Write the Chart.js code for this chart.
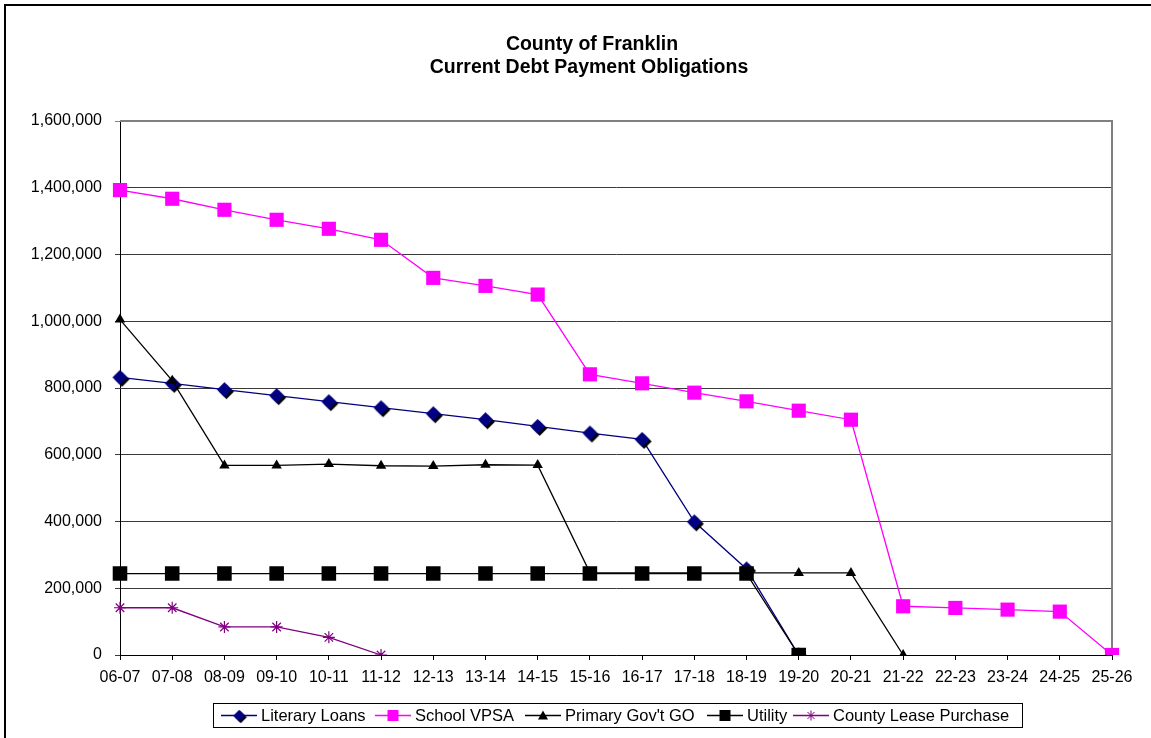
<!DOCTYPE html>
<html><head><meta charset="utf-8">
<script src="https://cdn.jsdelivr.net/npm/chart.js@4"></script>
<style>html,body{margin:0;padding:0;background:#fff;overflow:hidden}</style>
</head><body>
<canvas id="c" width="1151" height="738"></canvas>
<script>
const categories = ['06-07','07-08','08-09','09-10','10-11','11-12','12-13','13-14','14-15','15-16','16-17','17-18','18-19','19-20','20-21','21-22','22-23','23-24','24-25','25-26'];
const literaryLoans = [832000, 814000, 795000, 777000, 759000, 741000, 723000, 705000, 685000, 665000, 646000, 399000, 258000, 0, null, null, null, null, null, null];
const schoolVPSA = [1393000, 1367000, 1334000, 1304000, 1277000, 1244000, 1130000, 1106000, 1080000, 841000, 814000, 786000, 760000, 732000, 705000, 146000, 141000, 136000, 130000, 0];
const primaryGovtGO = [1005000, 822000, 568000, 568000, 572000, 567000, 566000, 570000, 569000, 247000, 246000, 246000, 246000, 246000, 246000, 0, null, null, null, null];
const utility = [244000, 244000, 244000, 244000, 244000, 244000, 244000, 244000, 244000, 244000, 244000, 244000, 244000, 0, null, null, null, null, null, null];
const countyLeasePurchase = [141500, 141500, 84000, 84000, 53000, 0, null, null, null, null, null, null, null, null, null, null, null, null, null, null];
const seriesNames = ['Literary Loans', 'School VPSA', "Primary Gov't GO", 'Utility', 'County Lease Purchase'];
const titleLines = ['County of Franklin', 'Current Debt Payment Obligations'];
const yMin = 0, yMax = 1600000, yStep = 200000;

const FONT = "'Liberation Sans', Arial, Helvetica, sans-serif";
const legendStarts = [221, 375, 525, 707, 793];

// diamond marker with shadow
function makeDiamond(r, off) {
  const s = 2 * r + off + 4;
  const cv = document.createElement('canvas');
  cv.width = s; cv.height = s;
  const g = cv.getContext('2d');
  const c = s / 2;
  function dia(cx, cy, col) {
    g.beginPath();
    g.moveTo(cx, cy - r); g.lineTo(cx + r, cy); g.lineTo(cx, cy + r); g.lineTo(cx - r, cy); g.closePath();
    g.fillStyle = col; g.fill();
  }
  dia(c + off, c + off, '#000000');
  dia(c, c, '#000080');
  return cv;
}
const diamondImg = makeDiamond(7.5, 2);
const diamondSmall = makeDiamond(6, 1.5);

const frameTitlePlugin = {
  id: 'frameTitle',
  beforeDraw(chart) {
    const ctx = chart.ctx;
    ctx.save();
    ctx.fillStyle = '#fff';
    ctx.fillRect(0, 0, chart.width, chart.height);
    ctx.strokeStyle = '#000';
    ctx.lineWidth = 2;
    ctx.strokeRect(5, 5, 1300, 1000);
    ctx.fillStyle = '#000';
    ctx.font = 'bold 19.5px ' + FONT;
    ctx.textAlign = 'center';
    ctx.textBaseline = 'alphabetic';
    ctx.fillText(titleLines[0], 592, 50);
    ctx.fillText(titleLines[1], 589, 73);
    ctx.restore();
  },
  beforeDatasetsDraw(chart) {
    const ctx = chart.ctx, a = chart.chartArea;
    ctx.save();
    ctx.strokeStyle = '#808080';
    ctx.lineWidth = 2;
    ctx.beginPath();
    ctx.moveTo(a.left, a.top);
    ctx.lineTo(a.right, a.top);
    ctx.lineTo(a.right, a.bottom);
    ctx.stroke();
    ctx.restore();
  },
  afterDraw(chart) {
    const ctx = chart.ctx;
    ctx.save();
    // legend box
    ctx.strokeStyle = '#000';
    ctx.lineWidth = 1;
    ctx.strokeRect(213.5, 703.5, 809, 24);
    ctx.font = '16.5px ' + FONT;
    ctx.textBaseline = 'middle';
    ctx.textAlign = 'left';
    const cy = 715.5;
    chart.data.datasets.forEach((ds, i) => {
      const x = legendStarts[i];
      const lineLen = 36;
      ctx.strokeStyle = ds.borderColor;
      ctx.lineWidth = 1.3;
      ctx.beginPath();
      ctx.moveTo(x, cy); ctx.lineTo(x + lineLen, cy);
      ctx.stroke();
      const mx = x + lineLen / 2;
      const st = ds.pointStyle;
      if (st instanceof HTMLCanvasElement) {
        ctx.drawImage(diamondSmall, mx - diamondSmall.width / 2, cy - diamondSmall.height / 2);
      } else if (st === 'rect') {
        ctx.fillStyle = ds.pointBackgroundColor;
        ctx.fillRect(mx - 5.5, cy - 5.5, 11, 11);
      } else if (st === 'triangle') {
        ctx.fillStyle = ds.pointBackgroundColor;
        ctx.beginPath();
        ctx.moveTo(mx, cy - 5); ctx.lineTo(mx + 5, cy + 4); ctx.lineTo(mx - 5, cy + 4); ctx.closePath();
        ctx.fill();
      } else if (st === 'star') {
        ctx.strokeStyle = ds.pointBorderColor;
        ctx.lineWidth = 1;
        const r = 5;
        ctx.beginPath();
        for (let k = 0; k < 4; k++) {
          const ang = k * Math.PI / 4;
          ctx.moveTo(mx - Math.cos(ang) * r, cy - Math.sin(ang) * r);
          ctx.lineTo(mx + Math.cos(ang) * r, cy + Math.sin(ang) * r);
        }
        ctx.stroke();
      }
      ctx.fillStyle = '#000';
      ctx.fillText(ds.label, x + lineLen + 4, cy + 1);
    });
    ctx.restore();
  }
};

const ctx = document.getElementById('c').getContext('2d');
new Chart(ctx, {
  type: 'line',
  data: {
    labels: categories,
    datasets: [
      { label: seriesNames[0], data: literaryLoans, borderColor: '#000080', borderWidth: 1.3, pointStyle: diamondImg, pointRadius: 8, order: 5 },
      { label: seriesNames[1], data: schoolVPSA, borderColor: '#FF00FF', borderWidth: 1.3, pointStyle: 'rect', pointRadius: 10, pointBackgroundColor: '#FF00FF', pointBorderColor: '#FF00FF', pointBorderWidth: 0, order: 4 },
      { label: seriesNames[2], data: primaryGovtGO, borderColor: '#000000', borderWidth: 1.3, pointStyle: 'triangle', pointRadius: 6, pointBackgroundColor: '#000000', pointBorderColor: '#000000', pointBorderWidth: 0, order: 3 },
      { label: seriesNames[3], data: utility, borderColor: '#000000', borderWidth: 1.3, pointStyle: 'rect', pointRadius: 10.3, pointBackgroundColor: '#000000', pointBorderColor: '#000000', pointBorderWidth: 0, order: 2 },
      { label: seriesNames[4], data: countyLeasePurchase, borderColor: '#800080', borderWidth: 1.3, pointStyle: 'star', pointRadius: 6, pointBackgroundColor: '#800080', pointBorderColor: '#800080', pointBorderWidth: 1.2, order: 1 }
    ]
  },
  options: {
    responsive: false,
    animation: false,
    devicePixelRatio: 1,
    spanGaps: false,
    layout: { padding: { left: 0, top: 121, right: 39, bottom: 43 } },
    plugins: { legend: { display: false }, title: { display: false }, tooltip: { enabled: false } },
    elements: { line: { tension: 0, fill: false } },
    scales: {
      x: {
        type: 'category',
        offset: false,
        afterFit(s) { s.height = 40; },
        grid: { display: true, drawOnChartArea: false, drawTicks: true, tickLength: 5, color: '#000', offset: false },
        border: { display: true, color: '#000', width: 1 },
        ticks: { color: '#000', font: { family: FONT, size: 16 }, padding: 8, maxRotation: 0, minRotation: 0, autoSkip: false }
      },
      y: {
        min: yMin, max: yMax,
        afterFit(s) { s.width = 120; },
        grid: { color: (c) => (c.tick && c.tick.value === yMax) ? '#808080' : '#3a3a3a', lineWidth: 1, drawTicks: true, tickLength: 5 },
        border: { display: true, color: '#000', width: 1 },
        ticks: { stepSize: yStep, color: '#000', font: { family: FONT, size: 16 }, padding: 13,
          callback: (v) => Number(v).toLocaleString('en-US') }
      }
    }
  },
  plugins: [frameTitlePlugin]
});
</script>
</body></html>
